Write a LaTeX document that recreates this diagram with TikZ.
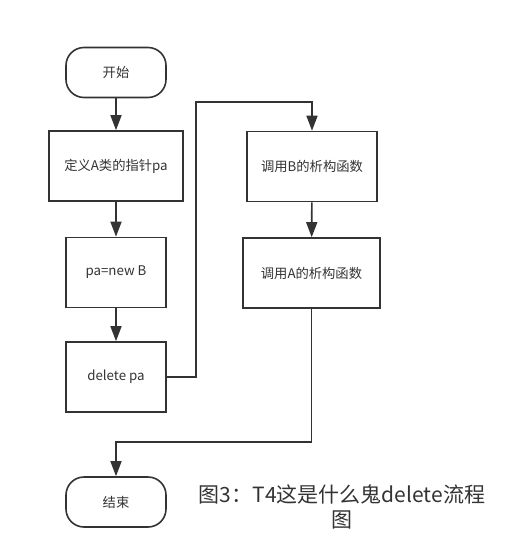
\documentclass[tikz,border=0pt]{standalone}
\usepackage{fontspec}
\setmainfont{Noto Sans CJK SC}
\usetikzlibrary{arrows.meta}
\definecolor{ink}{HTML}{333333}
\begin{document}
\begin{tikzpicture}[x=1pt,y=-1pt,
    every node/.style={font=\fontsize{13.3}{16}\selectfont, text=ink},
    term/.style={draw=ink, line width=1.6pt, rectangle, rounded corners=18pt, minimum width=100pt, minimum height=50pt, inner sep=0pt},
    proc/.style={draw=ink, line width=1.6pt, rectangle, minimum height=70pt, inner sep=0pt},
    ->/.style={draw=ink, line width=1.6pt, -{Triangle[length=15pt,width=11pt]}}]
    \useasboundingbox (0,0) rectangle (520,559);
    \node[term] (start) at (116,72.5) {开始};
    \node[proc, minimum width=134pt] (defpa) at (116,166) {定义A类的指针pa};
    \node[proc, minimum width=100pt] (newb) at (116,272.5) {pa=new B};
    \node[proc, minimum width=100pt] (del) at (116,377) {delete pa};
    \node[proc, minimum width=130pt] (dtorb) at (312,166.5) {调用B的析构函数};
    \node[proc, minimum width=137pt] (dtora) at (311.5,273) {调用A的析构函数};
    \node[term] (stop) at (116,502) {结束};
    \coordinate (up) at (196,102);
    \coordinate (turn) at (116,442);
    \node[font=\fontsize{21}{25}\selectfont, align=center] (caption) at (342,507) {图3：T4这是什么鬼delete流程\\图};

    \draw[->] (start) -- (defpa);
    \draw[->] (defpa) -- (newb);
    \draw[->] (newb) -- (del);
    \draw[->] (del.east) -| (up) -| (dtorb.north);
    \draw[->] (dtorb) -- (dtora);
    \draw[->] (dtora.south) |- (turn) -- (stop.north);
\end{tikzpicture}
\end{document}
